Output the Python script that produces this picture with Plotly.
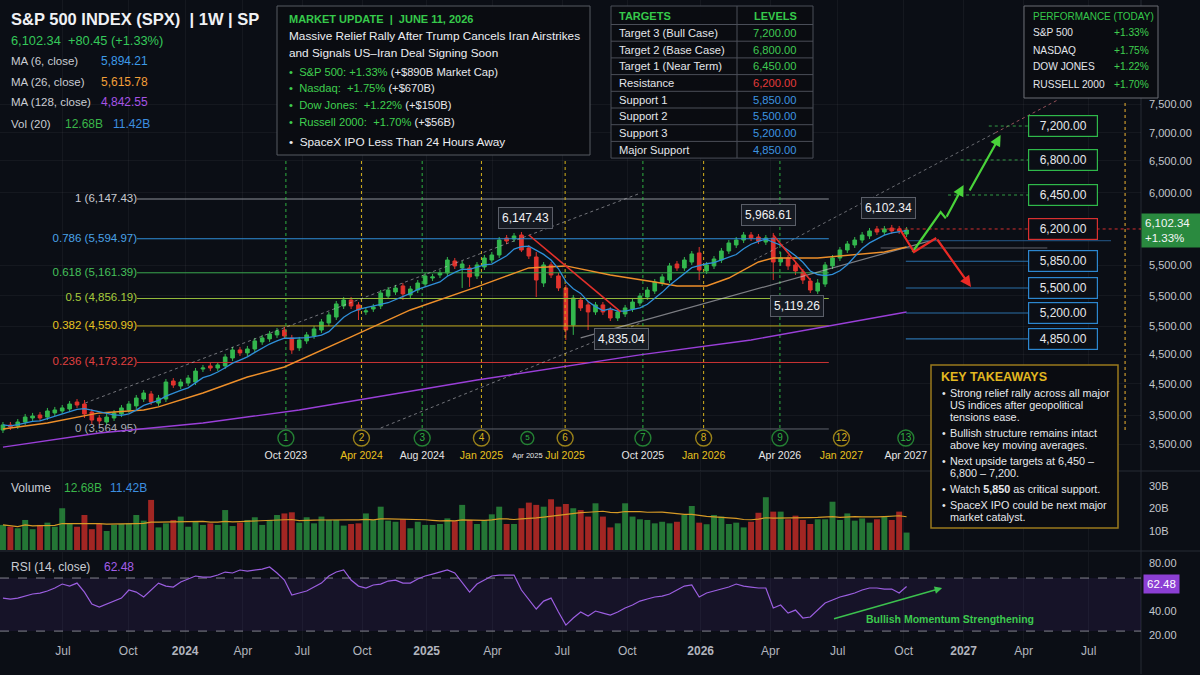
import numpy as np
import pandas as pd
import plotly.graph_objects as go

# -------------------------------------------------------------------
# DATA  (weekly bars, on the chart's own log scale)
# -------------------------------------------------------------------
opens = [3556, 3599, 3590, 3624, 3659, 3685, 3667, 3703, 3720, 3738,
         3800, 3782, 3711, 3659, 3624, 3659, 3694, 3729, 3765, 3827,
         3873, 3791, 3827, 3994, 3947, 3975, 3984, 4109, 4139, 4119,
         4139, 4218, 4299, 4269, 4309, 4382, 4413, 4455, 4507, 4423,
         4320, 4392, 4444, 4507, 4583, 4648, 4771, 4839, 4783, 4704,
         4737, 4771, 4885, 4932, 5003, 4897, 4955, 5026, 5098, 5135,
         5159, 5308, 5221, 5221, 5123, 5233, 5320, 5384, 5605, 5591,
         5645, 5474, 5358, 5038, 5258, 5123, 4979, 4561, 4839, 4783,
         4704, 4783, 4726, 4637, 4682, 4737, 4805, 4874, 4943, 5038,
         5074, 5270, 5221, 5295, 5410, 5184, 5246, 5320, 5435, 5513,
         5578, 5645, 5618, 5552, 5605, 5295, 5346, 5258, 5172, 5062,
         4943, 5026, 5246, 5346, 5448, 5513, 5578, 5632, 5726, 5685,
         5739, 5726, 5658]
highs = [3624, 3624, 3650, 3694, 3703, 3711, 3747, 3756, 3773, 3809,
         3827, 3818, 3738, 3685, 3694, 3729, 3773, 3809, 3864, 3910,
         3901, 3864, 4013, 4022, 4013, 4051, 4119, 4149, 4168, 4178,
         4259, 4330, 4330, 4340, 4423, 4455, 4497, 4529, 4540, 4455,
         4434, 4486, 4550, 4626, 4704, 4828, 4874, 4874, 4816, 4749,
         4794, 4955, 4991, 5015, 5038, 5003, 5074, 5159, 5147, 5196,
         5358, 5346, 5308, 5258, 5295, 5384, 5422, 5618, 5645, 5672,
         5685, 5513, 5422, 5295, 5295, 5159, 5015, 4897, 4874, 4816,
         4816, 4816, 4760, 4737, 4783, 4851, 4920, 4991, 5086, 5147,
         5283, 5308, 5358, 5435, 5487, 5295, 5371, 5474, 5578, 5618,
         5685, 5685, 5658, 5645, 5672, 5422, 5384, 5295, 5208, 5098,
         5086, 5295, 5384, 5487, 5565, 5618, 5685, 5739, 5767, 5767,
         5781, 5767, 5753]
lows = [3531, 3556, 3565, 3599, 3633, 3633, 3641, 3676, 3694, 3711,
        3747, 3659, 3607, 3599, 3599, 3633, 3667, 3703, 3738, 3800,
        3773, 3765, 3800, 3929, 3919, 3947, 3956, 4080, 4089, 4089,
        4109, 4188, 4238, 4238, 4279, 4351, 4382, 4423, 4413, 4259,
        4289, 4361, 4413, 4476, 4550, 4615, 4737, 4737, 4615, 4671,
        4704, 4737, 4851, 4897, 4839, 4862, 4920, 4991, 5062, 5098,
        5123, 5208, 4979, 4991, 5086, 5196, 5283, 5346, 5526, 5552,
        5422, 5333, 4874, 4991, 5098, 4943, 4402, 4455, 4715, 4507,
        4671, 4671, 4604, 4604, 4648, 4704, 4771, 4839, 4909, 5003,
        5038, 5184, 5184, 5258, 5074, 5147, 5208, 5283, 5397, 5474,
        5539, 5565, 5526, 5513, 5074, 5246, 5196, 5135, 5026, 4920,
        4909, 4991, 5208, 5308, 5410, 5474, 5539, 5591, 5645, 5645,
        5658, 5658, 5618]
closes = [3599, 3582, 3624, 3667, 3676, 3659, 3720, 3729, 3747, 3782,
          3773, 3694, 3641, 3633, 3667, 3703, 3747, 3782, 3836, 3882,
          3800, 3836, 3984, 3956, 3984, 4022, 4089, 4119, 4119, 4149,
          4228, 4299, 4269, 4309, 4392, 4423, 4465, 4497, 4444, 4299,
          4402, 4455, 4518, 4594, 4671, 4794, 4839, 4771, 4726, 4715,
          4760, 4920, 4955, 4979, 4909, 4967, 5038, 5123, 5111, 5159,
          5320, 5246, 5270, 5111, 5258, 5346, 5384, 5578, 5565, 5632,
          5448, 5371, 5074, 5258, 5135, 4979, 4507, 4862, 4749, 4704,
          4783, 4704, 4637, 4704, 4749, 4816, 4885, 4955, 5050, 5111,
          5246, 5221, 5320, 5397, 5196, 5258, 5333, 5435, 5539, 5578,
          5645, 5605, 5565, 5605, 5295, 5346, 5246, 5184, 5074, 4955,
          5038, 5258, 5346, 5448, 5526, 5578, 5645, 5699, 5685, 5726,
          5699, 5699, 5712]

volumes = [12.7, 11.9, 11.2, 14.9, 10.8, 12.7, 13.7, 11.9, 20.1, 13.4,
           11.9, 17.1, 10.8, 13.1, 10.0, 12.7, 13.1, 13.4, 17.1, 14.6,
           23.8, 11.6, 13.4, 14.9, 16.4, 11.9, 14.1, 12.7, 13.4, 12.7,
           19.3, 12.2, 13.7, 14.9, 16.1, 12.7, 14.9, 17.1, 17.8, 18.3,
           13.7, 16.1, 13.4, 16.4, 14.9, 14.9, 12.4, 13.1, 13.4, 17.8,
           14.9, 20.8, 14.6, 14.1, 15.2, 11.2, 14.1, 12.7, 12.7, 13.1,
           15.6, 14.4, 21.6, 14.9, 13.1, 14.9, 17.4, 20.8, 13.1, 13.1,
           20.1, 22.6, 21.6, 20.8, 24.1, 20.8, 22.0, 20.1, 19.3, 16.4,
           22.3, 16.4, 11.6, 13.4, 22.3, 16.4, 15.2, 14.9, 13.4, 14.1,
           13.4, 14.1, 17.1, 21.1, 13.7, 13.0, 17.1, 16.4, 13.1, 13.7,
           11.6, 14.1, 18.1, 25.0, 18.6, 18.6, 15.2, 16.8, 14.9, 13.1,
           15.2, 15.2, 23.0, 14.9, 17.8, 14.6, 15.6, 13.7, 15.2, 16.4,
           14.9, 18.6, 9.3]

rsi_values = [50.8, 50.0, 50.8, 52.5, 54.2, 55.0, 56.7, 59.2, 62.5, 60.8,
              63.3, 55.8, 45.8, 43.3, 45.8, 48.3, 50.8, 57.5, 55.8, 51.7,
              57.5, 63.3, 60.8, 60.0, 64.2, 66.7, 69.2, 68.3, 68.3, 70.0,
              72.5, 71.7, 74.2, 73.3, 74.2, 75.0, 76.7, 71.7, 65.8, 53.3,
              55.0, 56.7, 60.0, 63.3, 69.2, 72.5, 74.2, 65.8, 60.8, 59.2,
              61.7, 62.5, 65.0, 65.8, 63.3, 63.3, 66.7, 69.2, 70.8, 72.5,
              74.2, 71.7, 63.3, 55.8, 62.5, 65.8, 69.2, 70.0, 70.0, 70.0,
              57.5, 49.2, 41.7, 48.3, 50.8, 39.2, 28.3, 34.2, 39.2, 35.8,
              40.0, 38.3, 36.7, 39.2, 42.5, 45.0, 48.3, 50.0, 51.7, 52.5,
              54.2, 57.5, 60.8, 61.7, 51.7, 55.0, 56.7, 58.3, 60.0, 62.5,
              60.8, 60.0, 59.2, 59.2, 42.5, 45.0, 38.3, 40.8, 34.2, 35.0,
              40.8, 46.7, 49.2, 51.7, 53.3, 55.0, 57.5, 59.2, 59.2, 58.3,
              58.3, 55.0, 60.5]

ma26_bars = [0, 6, 13, 19, 21, 27, 33, 38, 47, 55, 64, 71, 76, 82, 88, 91, 95, 98, 102, 104, 110, 115, 119, 122]
ma26_values = [3565, 3616, 3703, 3729, 3756, 3882, 4032, 4129, 4434, 4726, 4991, 5221, 5246, 5135,
               5050, 5003, 5003, 5098, 5295, 5346, 5346, 5384, 5422, 5487]
ma128_bars = [0, 13, 27, 40, 64, 86, 101, 122]
ma128_values = [3415, 3531, 3616, 3729, 4003, 4249, 4402, 4704]

fib_ratios = ["1", "0.786", "0.618", "0.5", "0.382", "0.236", "0"]
fib_prices = [6147.43, 5594.97, 5161.39, 4856.19, 4550.99, 4173.22, 3564.95]
fib_line_colors = ["#8d9099", "#2f8ed8", "#3aa84e", "#93b83a", "#bfa91e", "#cc3434", "#5f636c"]
fib_text_colors = ["#c9cbd1", "#4aa3e8", "#45c05a", "#a8cc3c", "#e6c421", "#e04040", "#a9acb3"]

price_tick_at = [7697, 7190, 6732, 6236, 5250, 4887, 4550, 4255, 3967, 3684, 3437]
price_tick_text = ["7,500.00", "7,000.00", "6,500.00", "6,000.00", "5,500.00", "5,500.00",
                   "5,500.00", "4,500.00", "4,500.00", "3,500.00", "3,500.00"]

month_tick_at = [8.1, 16.9, 24.6, 32.4, 40.4, 48.5, 57.2, 66.1, 75.5, 84.3, 94.2, 103.6, 112.7,
                 121.6, 129.7, 137.8, 146.6]
month_tick_text = ["Jul", "Oct", "<b>2024</b>", "Apr", "Jul", "Oct", "<b>2025</b>", "Apr", "Jul", "Oct",
                   "<b>2026</b>", "Apr", "Jul", "Oct", "<b>2027</b>", "Apr", "Jul"]

cycle_nums = ["1", "2", "3", "4", "5", "6", "7", "8", "9", "12", "13"]
cycle_bars = [38.2, 48.4, 56.6, 64.6, 70.8, 75.9, 86.4, 94.6, 104.9, 113.2, 121.9]
cycle_dates = ["Oct 2023", "Apr 2024", "Aug 2024", "Jan 2025", "Apr 2025", "Jul 2025", "Oct 2025",
               "Jan 2026", "Apr 2026", "Jan 2027", "Apr 2027"]
cycle_kind = ["g", "y", "g", "y", "g", "y", "g", "y", "g", "y", "g"]
cycle_has_line = [1, 1, 1, 1, 0, 1, 1, 1, 1, 0, 0]

target_names = ["Target 3 (Bull Case)", "Target 2 (Base Case)", "Target 1 (Near Term)", "Resistance",
                "Support 1", "Support 2", "Support 3", "Major Support"]
target_levels = ["7,200.00", "6,800.00", "6,450.00", "6,200.00", "5,850.00", "5,500.00", "5,200.00", "4,850.00"]
target_kind = ["t", "t", "t", "r", "s", "s", "s", "s"]
target_line_y = [7308, 6743, 6206, 5726, 5305, 4979, 4693, 4413]
target_line_from = [133.1, 129.3, 127.6, 118.5, 121.9, 121.9, 121.9, 121.9]

peak_labels = ["6,147.43", "5,968.61", "6,102.34", "5,119.26", "4,835.04"]
peak_bars = [70.5, 103.4, 119.5, 107.2, 83.5]
peak_prices = [5685, 5645, 5767, 4920, 4604]
peak_side = ["top", "top", "top", "bottom", "bottom"]
peak_shift = [3, 9, 7, -2, -7]

perf_names = ["S&amp;P 500", "NASDAQ", "DOW JONES", "RUSSELL 2000"]
perf_values = ["+1.33%", "+1.75%", "+1.22%", "+1.70%"]

# -------------------------------------------------------------------
# STYLE / GEOMETRY
# -------------------------------------------------------------------
FONT = "Liberation Sans, Arial, sans-serif"
BG = "#0b0e15"
GRID = "rgba(255,255,255,0.045)"
TXT = "#d8dae0"
UP = "#33b74e"
DOWN = "#e0332d"
HEAD_GREEN = "#36c94b"
BOX_LINE = "#4a4e58"
T_GREEN, T_RED, T_BLUE = "#2fb84a", "#d93030", "#2c86cf"
KIND_COLOR = {"t": T_GREEN, "r": T_RED, "s": T_BLUE}
KIND_TEXT = {"t": "#3fc952", "r": "#e23b3b", "s": "#3d95e0"}
CYC = {"g": "#2fb141", "y": "#d6b21c"}
CYC_TXT = {"g": "#e6e6e6", "y": "#e8c21d"}

W, H = 1141, 642          # plot area in px (inside margins)
X_MIN, X_MAX = -0.4, 153.65
PRICE_LO, PRICE_HI = 3227, 9851
VOL_LO, VOL_HI = 1.56, 36.2
RSI_LO, RSI_HI = 14.2, 89.2
RSI_UPPER, RSI_LOWER = 67.5, 23.3
FIB_FROM, FIB_TO = 18.1, 111.5
CYCLE_LO, CYCLE_HI = 3573, 6743
CIRCLE_Y, DATE_Y = 3489, 3344


def px(x):
    return x / W


def py(y):
    return 1 - y / H


bars = list(range(len(closes)))
ma6 = pd.Series(closes).rolling(6, min_periods=1).mean()
vol_ma = pd.Series(volumes).rolling(20, min_periods=1).mean()
vol_colors = ["rgba(46,160,67,0.72)" if c >= o else "rgba(205,45,40,0.78)" for o, c in zip(opens, closes)]

fig = go.Figure()


def line(xs, ys, color, width=1.0, dash=None, yaxis="y"):
    fig.add_trace(go.Scatter(x=xs, y=ys, mode="lines", yaxis=yaxis,
                             line=dict(color=color, width=width, dash=dash),
                             hoverinfo="skip", showlegend=False))


# fib retracement
for p, c in zip(fib_prices, fib_line_colors):
    line([FIB_FROM, FIB_TO], [p, p], c, 1)
fig.add_trace(go.Scatter(
    x=[FIB_FROM] * len(fib_prices), y=fib_prices, mode="text",
    text=[f"{r} ({p:,.2f})" for r, p in zip(fib_ratios, fib_prices)],
    textposition="middle left", textfont=dict(color=fib_text_colors, size=11.5, family=FONT),
    hoverinfo="skip", showlegend=False))

# time cycle markers
for b, k, has in zip(cycle_bars, cycle_kind, cycle_has_line):
    if has:
        line([b, b], [CYCLE_LO, CYCLE_HI], CYC[k], 1, "dot")
line([151.5, 151.5], [3556, 7773], "#c8972c", 1.2, "dot")

# channels / trend lines
line([11.1, 86.1], [3791, 6235], "rgba(200,200,205,0.55)", 1, "dot")
line([51, 86.1], [3573, 4583], "rgba(200,200,205,0.55)", 1, "dot")
line([78, 126], [4423, 5591], "rgba(200,200,205,0.6)", 1.2)
line([101.4, 134], [5320, 7193], "rgba(200,200,205,0.5)", 1, "dot")
line([134, 142.4], [7193, 7773], "rgba(210,110,120,0.7)", 1, "dot")
line([122.2, 149.6], [5569, 5569], "#24598a", 1)
line([118.5, 141], [5474, 5474], "rgba(170,170,178,0.55)", 1)

# moving averages
line(ma128_bars, ma128_values, "#9a3fd8", 1.4)
line(ma26_bars, ma26_values, "#ee8f2a", 1.4)

fig.add_trace(go.Candlestick(
    x=bars, open=opens, high=highs, low=lows, close=closes,
    increasing=dict(line=dict(color=UP, width=1), fillcolor=UP),
    decreasing=dict(line=dict(color=DOWN, width=1), fillcolor=DOWN),
    whiskerwidth=0, hoverinfo="skip", showlegend=False))

line(bars, ma6, "#2f8fd8", 1.3)

# red down trend lines
line([71, 83.4], [5645, 4704], "#e3302b", 1.6)
line([104, 109], [5645, 5074], "#e3302b", 1.6)

# target / support levels
for y, x0, k in zip(target_line_y, target_line_from, target_kind):
    if k == "t":
        line([x0, 139.6], [y, y], "rgba(60,190,80,0.8)", 1, "dot")
    elif k == "r":
        line([x0, X_MAX + 2], [y, y], "#d12f2f", 1, "dot")
    else:
        line([x0, 139.6], [y, y], "#2a6fa8", 1.1)

# projection paths
line([122.8, 126.6, 127.3], [5422, 5961, 5872], "#49d33a", 2.2)
line([121, 123, 126], [5739, 5422, 5605], "#ea2a25", 2.2)

# time cycle circles and date labels
fig.add_trace(go.Scatter(
    x=cycle_bars, y=[CIRCLE_Y] * len(cycle_bars), mode="markers+text", text=cycle_nums,
    textposition="middle center",
    textfont=dict(color=[CYC[k] for k in cycle_kind],
                  size=[8 if n == "5" else 10 for n in cycle_nums], family=FONT),
    marker=dict(size=[13 if n == "5" else 16 for n in cycle_nums], color=BG,
                line=dict(color=[CYC[k] for k in cycle_kind], width=1.4)),
    hoverinfo="skip", showlegend=False))
fig.add_trace(go.Scatter(
    x=cycle_bars, y=[DATE_Y] * len(cycle_bars), mode="text", text=cycle_dates,
    textposition="middle center",
    textfont=dict(color=[CYC_TXT[k] for k in cycle_kind],
                  size=[7.5 if d == "Apr 2025" else 10.5 for d in cycle_dates], family=FONT),
    hoverinfo="skip", showlegend=False))

# volume pane
fig.add_trace(go.Bar(x=bars, y=volumes, marker=dict(color=vol_colors, line=dict(width=0)),
                     width=0.8, yaxis="y2", hoverinfo="skip", showlegend=False))
line(bars, vol_ma, "#d79a26", 1.2, yaxis="y2")

# RSI pane
fig.add_trace(go.Scatter(x=[X_MIN, X_MAX], y=[RSI_LOWER, RSI_LOWER], mode="lines", yaxis="y3",
                         line=dict(color="rgba(160,160,170,0.8)", width=1, dash="dash"),
                         hoverinfo="skip", showlegend=False))
fig.add_trace(go.Scatter(x=[X_MIN, X_MAX], y=[RSI_UPPER, RSI_UPPER], mode="lines", yaxis="y3",
                         line=dict(color="rgba(160,160,170,0.8)", width=1, dash="dash"),
                         fill="tonexty", fillcolor="rgba(80,50,140,0.16)",
                         hoverinfo="skip", showlegend=False))
line(bars, rsi_values, "#9b5ee0", 1.2, yaxis="y3")

# -------------------------------------------------------------------
# ANNOTATIONS / BOXES
# -------------------------------------------------------------------
annotations = []
shapes = []


def note(x, y, text, size=12, color=TXT, anchor="left", **kw):
    annotations.append(dict(xref="paper", yref="paper", x=px(x), y=py(y), text=text,
                            showarrow=False, xanchor=anchor, yanchor="middle", borderpad=0,
                            font=dict(size=size, color=color, family=FONT), **kw))


def box(x0, y0, x1, y1, color, width=1, fill="rgba(10,12,18,0.97)"):
    shapes.append(dict(type="rect", xref="paper", yref="paper", x0=px(x0), x1=px(x1),
                       y0=py(y0), y1=py(y1), line=dict(color=color, width=width), fillcolor=fill,
                       layer="above"))


def seg(x0, y0, x1, y1, color, width=1):
    shapes.append(dict(type="line", xref="paper", yref="paper", x0=px(x0), x1=px(x1),
                       y0=py(y0), y1=py(y1), line=dict(color=color, width=width), layer="above"))


def arrow(x0, y0, x1, y1, color, yref="y", logy=True):
    f = np.log10 if logy else (lambda v: v)
    annotations.append(dict(x=x1, y=f(y1), ax=x0, ay=f(y0), xref="x", yref=yref, axref="x", ayref=yref,
                            showarrow=True, arrowhead=2, arrowsize=1, arrowwidth=2.2 if logy else 1.5,
                            arrowcolor=color, text=""))


arrow(127.3, 5872, 129.7, 6355, "#49d33a")
arrow(130.4, 6250, 134.7, 7154, "#49d33a")
arrow(126, 5605, 130.7, 4991, "#ea2a25")
arrow(112, 33.3, 126.8, 59.2, "#3cc14e", yref="y3", logy=False)

# header
note(10, 19, "<b>S&amp;P 500 INDEX (SPX)\u00a0\u00a0|\u00a01W\u00a0|\u00a0SP</b>", 16.5, "#f0f1f4")
note(10, 41, "6,102.34\u00a0\u00a0+80.45 (+1.33%)", 12.8, "#35c95a")
for y, lab, val, col in [(61, "MA (6, close)", "5,894.21", "#3d9be9"),
                         (82, "MA (26, close)", "5,615.78", "#f29f38"),
                         (102, "MA (128, close)", "4,842.55", "#a653e6")]:
    note(10, y, lab, 11.5, "#c9ccd3")
    note(100, y, val, 12, col)
note(10, 124, "Vol (20)", 11.5, "#c9ccd3")
note(64, 124, "12.68B", 12, "#3ab54a")
note(112, 124, "11.42B", 12, "#3d8fe0")

note(10, 488, "Volume", 12, "#c9ccd3")
note(63, 488, "12.68B", 12, "#3ab54a")
note(109, 488, "11.42B", 12, "#3d8fe0")
note(10, 567, "RSI (14, close)", 12, "#c9ccd3")
note(103, 567, "62.48", 12, "#a35ee8")

# market update box
box(277, 6, 590, 155, "#565a63")
note(288, 19, "<b>MARKET UPDATE\u00a0 |\u00a0 JUNE 11, 2026</b>", 11, HEAD_GREEN)
note(288, 36, "Massive Relief Rally After Trump Cancels Iran Airstrikes", 11.8, "#eceef2")
note(288, 53, "and Signals US\u2013Iran Deal Signing Soon", 11.8, "#eceef2")
for y, hi, rest in [(72, "S&amp;P 500: +1.33%", "(+$890B Market Cap)"),
                    (88, "Nasdaq:\u00a0 +1.75%", "(+$670B)"),
                    (105, "Dow Jones:\u00a0 +1.22%", "(+$150B)"),
                    (122, "Russell 2000:\u00a0 +1.70%", "(+$56B)")]:
    note(288, y, f"<span style='color:#3fcf4f'>\u2022\u00a0 {hi}</span> {rest}", 11.2, "#e6e8ec")
note(288, 142, "\u2022\u00a0 SpaceX IPO Less Than 24 Hours Away", 11.8, "#eceef2")

# targets table
TBL_X0, TBL_XM, TBL_X1 = 611, 737, 813
TBL_TOP, TBL_HEAD, ROW_H = 6, 24.5, 16.7
box(TBL_X0, TBL_TOP, TBL_X1, TBL_HEAD + ROW_H * len(target_names), BOX_LINE)
seg(TBL_XM, TBL_TOP, TBL_XM, TBL_HEAD + ROW_H * len(target_names), BOX_LINE)
for i in range(len(target_names)):
    seg(TBL_X0, TBL_HEAD + ROW_H * i, TBL_X1, TBL_HEAD + ROW_H * i, BOX_LINE)
note(618, 15.5, "<b>TARGETS</b>", 11, HEAD_GREEN)
note(775, 15.5, "<b>LEVELS</b>", 11, HEAD_GREEN, anchor="center")
for i, (n, lvl, k) in enumerate(zip(target_names, target_levels, target_kind)):
    yc = TBL_HEAD + ROW_H * (i + 0.5)
    note(618, yc, n, 11.2, "#e3e5ea")
    note(775, yc, lvl, 11.2, KIND_TEXT[k], anchor="center")

# performance box
box(1024, 6, 1158, 98, "#6a6d75")
note(1032, 16, "PERFORMANCE (TODAY)", 10, HEAD_GREEN)
for i, (n, v) in enumerate(zip(perf_names, perf_values)):
    note(1032, 33 + 17 * i, n, 10.2, "#e3e5ea")
    note(1150, 33 + 17 * i, v, 10.2, "#3fcf4f", anchor="right")

# key takeaways box
box(931, 365, 1118, 528, "#9a7a1c", 1.5)
note(940, 377, "<b>KEY TAKEAWAYS</b>", 12.5, "#e2b820")
for y, bullet, text in [(393, True, "Strong relief rally across all major"),
                        (405, False, "US indices after geopolitical"),
                        (417, False, "tensions ease."),
                        (433, True, "Bullish structure remains intact"),
                        (445, False, "above key moving averages."),
                        (461, True, "Next upside targets at 6,450 \u2013"),
                        (473, False, "6,800 \u2013 7,200."),
                        (489, True, "Watch <b>5,850</b> as critical support."),
                        (505, True, "SpaceX IPO could be next major"),
                        (517, False, "market catalyst.")]:
    if bullet:
        note(941, y, "\u2022", 10.5, "#e6e8ec")
    note(949, y, text, 10.8, "#e6e8ec")

# target boxes
for y, lvl, k in zip(target_line_y, target_levels, target_kind):
    annotations.append(dict(x=143.1, y=np.log10(y), xref="x", yref="y", text=lvl, showarrow=False,
                            font=dict(size=12, color="#e6e8ec", family=FONT), bgcolor="#0b0e15",
                            bordercolor=KIND_COLOR[k], borderwidth=1.2, borderpad=3, width=62))

# swing labels
for t, b, p, side, sh in zip(peak_labels, peak_bars, peak_prices, peak_side, peak_shift):
    annotations.append(dict(x=b, y=np.log10(p), xref="x", yref="y", text=t, showarrow=False,
                            yanchor="bottom" if side == "top" else "top", yshift=sh,
                            font=dict(size=12, color="#f0f1f4", family=FONT), bgcolor="#161a22",
                            bordercolor="#5a5e68", borderwidth=1, borderpad=3))

# price / rsi badges on the axis
annotations.append(dict(xref="paper", x=1.0, xanchor="left", y=np.log10(closes[-1]), yref="y",
                        text="6,102.34<br>+1.33%", showarrow=False, align="left", width=52,
                        font=dict(size=11.5, color="#f4f6f8", family=FONT), bgcolor="#2a8a3f",
                        borderpad=3))
annotations.append(dict(xref="paper", x=1.002, xanchor="left", y=62.48, yref="y3", text="62.48",
                        showarrow=False, font=dict(size=11.5, color="#ffffff", family=FONT),
                        bgcolor="#8c3fd4", borderpad=3))

annotations.append(dict(x=127.8, y=33.3, xref="x", yref="y3", text="<b>Bullish Momentum Strengthening</b>",
                        showarrow=False, font=dict(size=10.5, color="#3cc94e", family=FONT)))

# pane separators
for y in (471, 551):
    shapes.append(dict(type="line", xref="paper", yref="paper", x0=0, x1=1.06, y0=py(y), y1=py(y),
                       line=dict(color="#262a34", width=1), layer="below"))
shapes.append(dict(type="line", xref="paper", yref="paper", x0=1, x1=1, y0=-0.05, y1=1,
                   line=dict(color="#262a34", width=1), layer="below"))

# -------------------------------------------------------------------
# LAYOUT
# -------------------------------------------------------------------
axis_common = dict(showline=False, zeroline=False, ticks="", anchor="x", side="right", automargin=False,
                   tickfont=dict(color="#c3c6cc", size=11, family=FONT), ticklabelstandoff=7)

fig.update_layout(
    width=1200,
    height=675,
    margin=dict(l=0, r=59, t=0, b=33, autoexpand=False),
    paper_bgcolor=BG,
    plot_bgcolor=BG,
    font=dict(family=FONT, color=TXT),
    showlegend=False,
    hovermode=False,
    xaxis=dict(domain=[0, 1], range=[X_MIN, X_MAX], anchor="y3", tickvals=month_tick_at,
               ticktext=month_tick_text, showgrid=True, gridcolor=GRID, zeroline=False, showline=False,
               ticks="", automargin=False, tickfont=dict(color="#b2b5be", size=12, family=FONT),
               rangeslider=dict(visible=False)),
    yaxis=dict(domain=[py(471), 1], type="log", range=[np.log10(PRICE_LO), np.log10(PRICE_HI)],
               tickvals=price_tick_at, ticktext=price_tick_text, showgrid=True, gridcolor=GRID,
               **axis_common),
    yaxis2=dict(domain=[py(550), py(472)], range=[VOL_LO, VOL_HI], tickvals=[10, 20, 30],
                ticktext=["10B", "20B", "30B"], showgrid=False, **axis_common),
    yaxis3=dict(domain=[0, py(552)], range=[RSI_LO, RSI_HI], tickvals=[80, 40, 20],
                ticktext=["80.00", "40.00", "20.00"], showgrid=False, **axis_common),
    annotations=annotations,
    shapes=shapes,
)

# the page's default 8px body margin would shift the whole figure
fig.write_html("out.html", config={"displayModeBar": False},
               post_script="document.body.style.margin='0';document.body.style.overflow='hidden';"
                           f"document.body.style.background='{BG}';")
